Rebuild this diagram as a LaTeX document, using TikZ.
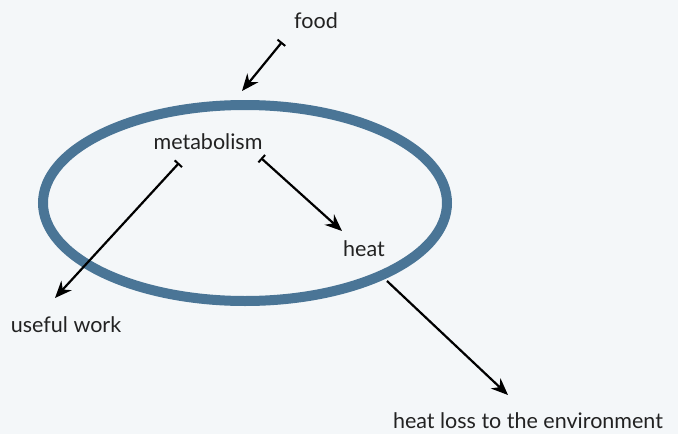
\documentclass[tikz,border=0pt]{standalone}
\usepackage{fontspec}
\setmainfont{Lato}
\usepackage{xcolor}
\usetikzlibrary{arrows.meta, positioning, calc}

\definecolor{ringblue}{HTML}{4A7596}
\definecolor{paper}{HTML}{F4F7F9}
\definecolor{ink}{HTML}{222222}

\begin{document}
\begin{tikzpicture}[x=1pt,y=-1pt,>={Stealth[length=17pt,width=14pt]},
			label node/.style={font=\fontsize{21.5}{25}\selectfont,text=ink,inner sep=0pt},
			flow/.style={{Bar[width=10pt,line width=2pt]}->,line width=2.2pt,draw=black},
			out flow/.style={->,line width=2.2pt,draw=black}]
			
			% background and page size
			\fill[paper] (0,0) rectangle (678,434);
			\useasboundingbox (0,0) rectangle (678,434);
			
			% the ring
			\draw[ringblue,line width=10pt] (245,203) ellipse [x radius=202, y radius=98];
			
			\node[label node] (food) at (316,21) {food};
			\node[label node] (metab) at (208,142) {metabolism};
			\node[label node] (heat) at (364,249) {heat};
			\node[label node] (work) at (66,325) {useful work};
			\node[label node] (loss) at (528,421) {heat loss to the environment};
			
			\coordinate (food out) at (282,42);
			\coordinate (ring in) at (242,91);
			\coordinate (work out) at (179,163);
			\coordinate (work in) at (55,298);
			\coordinate (heat out) at (261,158);
			\coordinate (heat in) at (342,231);
			\coordinate (loss out) at (387,281);
			\coordinate (loss in) at (508,395);
			
			\draw[flow] (food out) -- (ring in);
			\draw[flow] (work out) -- (work in);
			\draw[flow] (heat out) -- (heat in);
			\draw[out flow] (loss out) -- (loss in);
		\end{tikzpicture}
\end{document}
